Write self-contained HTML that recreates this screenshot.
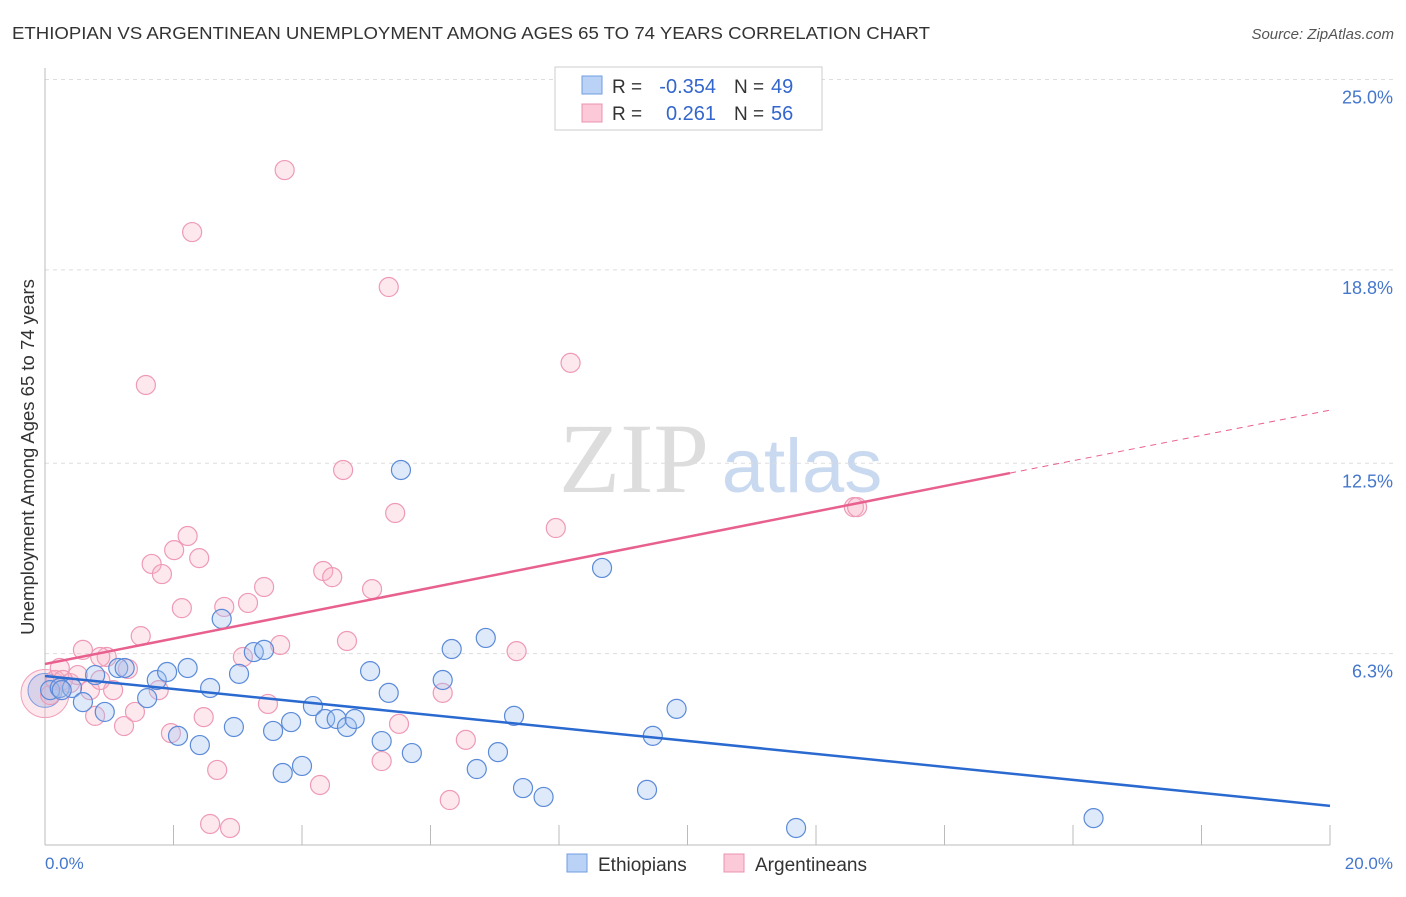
<!DOCTYPE html>
<html><head><meta charset="utf-8"><style>
body{margin:0;background:#fff;font-family:"Liberation Sans",sans-serif;}
</style></head><body>
<svg width="1406" height="892" xmlns="http://www.w3.org/2000/svg" id="svg" font-family="Liberation Sans, sans-serif">
<text x="12" y="39" font-size="17.5" fill="#333" textLength="918" lengthAdjust="spacingAndGlyphs">ETHIOPIAN VS ARGENTINEAN UNEMPLOYMENT AMONG AGES 65 TO 74 YEARS CORRELATION CHART</text>
<text x="1394" y="39" font-size="15" fill="#555" text-anchor="end" font-style="italic">Source: ZipAtlas.com</text>
<text x="634" y="492" font-size="100" fill="#ddd" text-anchor="middle" font-family="Liberation Serif, serif">ZIP</text>
<text x="802" y="492" font-size="76" fill="#c9d9f0" text-anchor="middle">atlas</text>
<g id="grid"></g>
<g id="marks"></g>
<text transform="translate(34,457) rotate(-90)" font-size="18.5" fill="#333" text-anchor="middle">Unemployment Among Ages 65 to 74 years</text>
<text x="45" y="869" font-size="17" fill="#4477cc">0.0%</text>
<text x="1393" y="869" font-size="17" fill="#4477cc" text-anchor="end">20.0%</text>
<g>
<rect x="555" y="67" width="267" height="63" fill="#fff" stroke="#ccc"/>
<rect x="582" y="76" width="20" height="18" fill="#b9d2f5" stroke="#6f9ee0"/>
<rect x="582" y="104" width="20" height="18" fill="#fcc9d8" stroke="#ec93b0"/>
<text x="612" y="93" font-size="19" fill="#333">R =</text>
<text x="716" y="93" font-size="20" fill="#3366cc" text-anchor="end">-0.354</text>
<text x="734" y="93" font-size="19" fill="#333">N =</text>
<text x="771" y="93" font-size="20" fill="#3366cc">49</text>
<text x="612" y="120" font-size="19" fill="#333">R =</text>
<text x="716" y="120" font-size="20" fill="#3366cc" text-anchor="end">0.261</text>
<text x="734" y="120" font-size="19" fill="#333">N =</text>
<text x="771" y="120" font-size="20" fill="#3366cc">56</text>
</g>
<g>
<rect x="567" y="854" width="20" height="18" fill="#b9d2f5" stroke="#6f9ee0"/>
<text x="598" y="871" font-size="19" fill="#333">Ethiopians</text>
<rect x="724" y="854" width="20" height="18" fill="#fcc9d8" stroke="#ec93b0"/>
<text x="755" y="871" font-size="19" fill="#333">Argentineans</text>
</g>
</svg>
<script>
const yTicks=[25.0,18.8,12.5,6.3];
const yTickLabels=["25.0%","18.8%","12.5%","6.3%"];
const xTicks=[2,4,6,8,10,12,14,16,18,20];
const ethX=[0.08,0.23,0.42,0.59,0.78,0.93,1.14,1.24,1.59,1.74,1.90,2.07,2.22,2.41,2.57,2.75,2.94,3.02,3.25,3.41,3.55,3.70,3.83,4.00,4.17,4.36,4.54,4.70,4.82,5.06,5.24,5.35,5.54,5.71,6.19,6.33,6.72,6.86,7.05,7.30,7.44,7.76,8.67,9.37,9.46,9.83,11.69,16.32,0.26];
const ethY=[5.11,5.18,5.18,4.72,5.60,4.40,5.83,5.83,4.85,5.44,5.70,3.62,5.83,3.32,5.18,7.43,3.91,5.64,6.35,6.42,3.78,2.41,4.07,2.64,4.59,4.17,4.17,3.91,4.17,5.73,3.45,5.02,12.28,3.06,5.44,6.45,2.54,6.81,3.09,4.27,1.92,1.63,9.09,1.86,3.62,4.50,0.62,0.94,5.11];
const argX=[0.08,0.16,0.23,0.39,0.51,0.59,0.70,0.78,0.86,0.96,1.06,1.23,1.29,1.40,1.49,1.57,1.66,1.77,1.82,1.96,2.01,2.13,2.22,2.29,2.40,2.47,2.57,2.68,2.79,2.88,3.08,3.16,3.41,3.47,3.66,3.73,4.28,4.33,4.47,4.64,4.70,5.09,5.24,5.35,5.45,5.51,6.19,6.30,6.55,7.34,7.95,8.18,12.59,12.64,0.86,0.28];
const argY=[4.95,5.44,5.83,5.34,5.60,6.42,5.11,4.27,5.44,6.19,5.11,3.94,5.80,4.40,6.87,15.05,9.22,5.11,8.89,3.71,9.67,7.78,10.13,20.03,9.41,4.23,0.75,2.51,7.82,0.62,6.19,7.95,8.47,4.66,6.58,22.05,2.02,8.99,8.79,12.28,6.71,8.40,2.80,18.24,10.88,4.01,5.02,1.53,3.49,6.38,10.39,15.77,11.07,11.07,6.19,5.44];
const ethTrend=[5.57,1.34];
const argTrend=[5.96,12.18,14.23];
const argTrendX=[0,15.02,20];
const NS="http://www.w3.org/2000/svg";
const X0=45,X1=1330,YB=847,PY=30.7;
function sx(v){return X0+(v/20)*(X1-X0);}
function sy(v){return YB-v*PY;}
function mk(t,a,p){const e=document.createElementNS(NS,t);for(const k in a)e.setAttribute(k,a[k]);p.appendChild(e);return e;}
const grid=document.getElementById('grid'),marks=document.getElementById('marks');
yTicks.forEach((t,i)=>{
 const l=mk('line',{x1:X0,x2:1393,y1:sy(t),y2:sy(t),stroke:'#ddd','stroke-dasharray':'4,4'},grid);
 
 
 const tx=mk('text',{x:1393,y:sy(t)+24,'font-size':18,fill:'#4477cc','text-anchor':'end'},grid);
 tx.textContent=yTickLabels[i];
 
 
});
xTicks.forEach(t=>{
 const l=mk('line',{x1:sx(t),x2:sx(t),y1:825,y2:845,stroke:'#bbb'},grid);
 
 
});
let a=mk('line',{x1:X0,x2:X0,y1:68,y2:845,stroke:'#bbb'},grid);


a=mk('line',{x1:X0,x2:X1,y1:845,y2:845,stroke:'#bbb'},grid);


let big=mk('circle',{cx:sx(0),cy:sy(5.0),r:24,fill:'rgba(248,180,200,0.3)',stroke:'#f0a0bb'},marks);


big=mk('circle',{cx:sx(0),cy:sy(5.1),r:17,fill:'rgba(150,170,220,0.35)',stroke:'#7d9be0'},marks);


argX.forEach((v,i)=>{
 const c=mk('circle',{cx:sx(v),cy:sy(argY[i]),r:9.5,fill:'rgba(248,180,200,0.3)',stroke:'#ee9ab6','stroke-width':1.2},marks);
 
 
});
ethX.forEach((v,i)=>{
 const c=mk('circle',{cx:sx(v),cy:sy(ethY[i]),r:9.5,fill:'rgba(160,195,240,0.35)',stroke:'#5b8ad8','stroke-width':1.2},marks);
 
 
});
let t=mk('line',{x1:sx(0),y1:sy(ethTrend[0]),x2:sx(20),y2:sy(ethTrend[1]),stroke:'#2a6ad0','stroke-width':2.5},marks);


t=mk('line',{x1:sx(argTrendX[0]),y1:sy(argTrend[0]),x2:sx(argTrendX[1]),y2:sy(argTrend[1]),stroke:'#e8608e','stroke-width':2.5},marks);


t=mk('line',{x1:sx(argTrendX[1]),y1:sy(argTrend[1]),x2:sx(argTrendX[2]),y2:sy(argTrend[2]),stroke:'#e8608e','stroke-width':1,'stroke-dasharray':'6,5'},marks);


</script>
</body></html>
